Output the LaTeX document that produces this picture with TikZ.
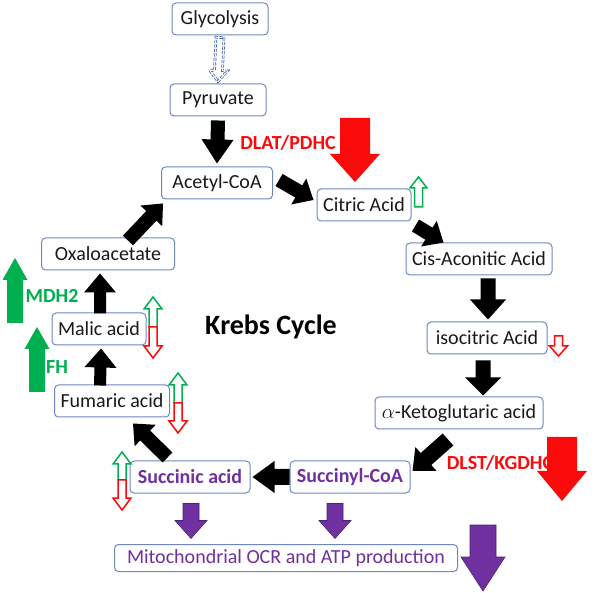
\documentclass[tikz,border=0pt]{standalone}
\usepackage{fontspec}
\setmainfont{Carlito}
\usetikzlibrary{positioning, calc}
\definecolor{boxline}{RGB}{110,135,190}
\definecolor{krebsred}{RGB}{250,10,10}
\definecolor{krebsgreen}{RGB}{0,176,80}
\definecolor{krebspurple}{RGB}{112,48,160}
\definecolor{glyblue}{RGB}{47,85,151}

% block arrow: style, from, to, shaft half width, head half width, head length
\newcommand{\blockarrow}[6]{%
  \path[#1] let \p1=#2, \p2=#3,
    \n1={atan2(\y2-\y1,\x2-\x1)}, \n2={veclen(\x2-\x1,\y2-\y1)} in
    ($(\p1)+(\n1+90:#4)$) -- ($(\p1)+(\n1:{\n2-#6})+(\n1+90:#4)$)
    -- ($(\p1)+(\n1:{\n2-#6})+(\n1+90:#5)$) -- (\p2)
    -- ($(\p1)+(\n1:{\n2-#6})+(\n1-90:#5)$) -- ($(\p1)+(\n1:{\n2-#6})+(\n1-90:#4)$)
    -- ($(\p1)+(\n1-90:#4)$) -- cycle;}

\begin{document}
\begin{tikzpicture}[
    x=1pt, y=1pt,
    box/.style={
        rectangle,
        draw=boxline,
        rounded corners=4pt,
        line width=1pt,
        minimum height=32pt,
        inner sep=2pt,
        fill=white,
        text=black!90,
        font=\fontsize{20}{22}\selectfont
    },
    boxbold/.style={
        box,
        text=krebspurple,
        font=\fontsize{20}{22}\selectfont\bfseries
    },
    boxmito/.style={
        box,
        minimum height=27pt,
        text=krebspurple
    },
    enzyme/.style={
        font=\fontsize{20}{22}\selectfont\bfseries
    },
    blackarr/.style={fill=black},
    redarr/.style={fill=krebsred},
    greenarr/.style={fill=krebsgreen},
    purplearr/.style={fill=krebspurple, draw=krebspurple!70!black, line width=0.6pt},
    greenhollow/.style={draw=krebsgreen, fill=white, line width=1.5pt},
    redhollow/.style={draw=krebsred, fill=white, line width=1.5pt},
    bluehollow/.style={draw=glyblue, double=white, double distance=1.2pt, line width=0.7pt, dashed, dash pattern=on 3pt off 1.5pt}
]
\useasboundingbox (0,0) rectangle (600,-593);

% Nodes
\node[box, minimum width=96pt] (gly) at (220,-19) {Glycolysis};
\node[box, minimum width=96pt] (pyr) at (218,-100) {Pyruvate};
\node[box, minimum width=111pt] (acoa) at (217,-183) {Acetyl-CoA};
\node[box, minimum width=94pt] (citric) at (364,-205) {Citric Acid};
\node[box, minimum width=146pt] (cis) at (479,-259) {Cis-Aconitic Acid};
\node[box, minimum width=120pt] (iso) at (487,-338) {isocitric Acid};
\node[box, minimum width=168pt] (akg) at (459,-413) {$\alpha$-Ketoglutaric acid};
\node[boxbold, minimum width=120pt] (scoa) at (350,-477) {Succinyl-CoA};
\node[boxbold, minimum width=120pt] (succ) at (190,-477) {Succinic acid};
\node[box, minimum width=115pt] (fum) at (112,-401) {Fumaric acid};
\node[box, minimum width=94pt] (mal) at (99,-329) {Malic acid};
\node[box, minimum width=133pt] (oxa) at (108,-254) {Oxaloacetate};
\node[boxmito, minimum width=343pt] (mito) at (286,-558) {Mitochondrial OCR and ATP production};
\node[font=\fontsize{28}{30}\selectfont\bfseries] (krebs) at (271,-327) {Krebs Cycle};

% Labels
\node[enzyme, text=krebsred] (dlat) at (288,-143) {DLAT/PDHC};
\node[enzyme, text=krebsgreen] (mdh) at (52,-296) {MDH2};
\node[enzyme, text=krebsgreen] (fh) at (57,-367) {FH};

% Main cycle arrows
\blockarrow{bluehollow}{($(gly.south)+(0,-2)$)}{($(pyr.north)+(0,2)$)}{4}{9}{11}
\blockarrow{blackarr}{($(pyr.south)+(0,-4)$)}{($(acoa.north)+(0,3)$)}{7}{16}{24}
\blockarrow{blackarr}{($(acoa.east)+(6,3)$)}{($(citric.west)+(-3,5)$)}{7}{15}{17}
\blockarrow{blackarr}{($(citric.south east)+(4,-4)$)}{($(cis.north west)+(38,0)$)}{7}{15}{17}
\blockarrow{blackarr}{($(cis.south)+(9,-3)$)}{($(iso.north)+(1,2)$)}{7.5}{18}{20}
\blockarrow{blackarr}{($(iso.south)+(-4,-6)$)}{($(akg.north)+(24,1)$)}{7.5}{18}{18}
\blockarrow{blackarr}{($(akg.south)+(-11,-10)$)}{($(scoa.east)+(2,6)$)}{8}{16}{18}
\blockarrow{blackarr}{(scoa.west)}{($(succ.east)+(2,0)$)}{8}{16}{22}
\blockarrow{blackarr}{($(succ.north west)+(38,3)$)}{($(fum.south)+(21,-6)$)}{7}{15}{17}
\blockarrow{blackarr}{($(fum.north)+(-12,-1)$)}{($(mal.south)+(2,-3)$)}{6}{16}{19}
\blockarrow{blackarr}{($(mal.north)+(1,-1)$)}{($(oxa.south)+(-8,-3)$)}{6}{16}{19}
\blockarrow{blackarr}{($(oxa.north)+(20,-3)$)}{($(acoa.south west)+(2,-4)$)}{7}{15}{17}

% Outputs to mitochondria
\blockarrow{purplearr}{($(succ.south)+(1,-10)$)}{($(succ.south)+(1,-45)$)}{8}{16}{18}
\blockarrow{purplearr}{($(scoa.south)+(-15,-10)$)}{($(scoa.south)+(-15,-45)$)}{8}{16}{18}

% Regulation arrows
\blockarrow{redarr}{(355,-118)}{(355,-182)}{15}{25}{28}
\blockarrow{redarr}{(562,-437)}{(562,-501)}{15}{25}{30}
\blockarrow{purplearr}{(483,-525)}{(483,-591)}{13}{22}{34}
\blockarrow{greenarr}{(15,-323)}{(15,-258)}{8}{12.5}{22}
\blockarrow{greenarr}{(37,-392)}{(37,-327)}{8}{12.5}{22}
\blockarrow{greenhollow}{($(citric.east)+(7,-2)$)}{($(citric.east)+(7,28)$)}{4}{8.5}{11}
\blockarrow{redhollow}{($(iso.east)+(11,2)$)}{($(iso.east)+(11,-18)$)}{4}{9}{10}

% Up / down pairs
\blockarrow{greenhollow}{(153,-327)}{(153,-297)}{4}{9}{12}
\blockarrow{redhollow}{(153,-327)}{(153,-358)}{4}{9}{12}
\blockarrow{greenhollow}{(178,-403)}{(178,-373)}{4}{9}{12}
\blockarrow{redhollow}{(178,-403)}{(178,-433)}{4}{9}{12}
\blockarrow{greenhollow}{(122,-480)}{(122,-452)}{4}{9}{12}
\blockarrow{redhollow}{(122,-480)}{(122,-510)}{4}{9}{12}

\node[enzyme, text=krebsred] (dlst) at (500,-463) {DLST/KGDHC};

\end{tikzpicture}
\end{document}
